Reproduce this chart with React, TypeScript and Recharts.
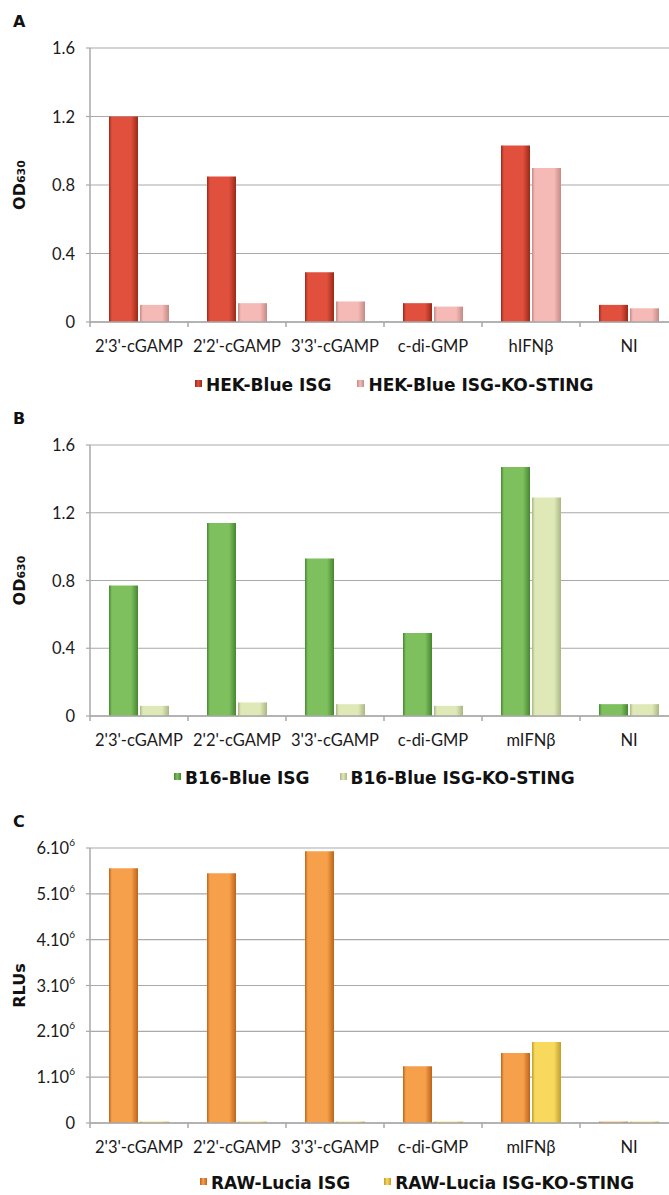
import {BarChart, Bar, XAxis, YAxis, CartesianGrid, Legend} from "recharts";

const categoriesA = ["2'3'-cGAMP", "2'2'-cGAMP", "3'3'-cGAMP", "c-di-GMP", "hIFNβ", "NI"];
const categoriesBC = ["2'3'-cGAMP", "2'2'-cGAMP", "3'3'-cGAMP", "c-di-GMP", "mIFNβ", "NI"];

const hekIsg = [1.2, 0.85, 0.29, 0.11, 1.03, 0.1];
const hekKo = [0.1, 0.11, 0.12, 0.09, 0.9, 0.08];

const b16Isg = [0.77, 1.14, 0.93, 0.49, 1.47, 0.07];
const b16Ko = [0.06, 0.08, 0.07, 0.06, 1.29, 0.07];

const rawIsg = [5.56e6, 5.45e6, 5.93e6, 1.24e6, 1.53e6, 0.03e6];
const rawKo = [0.03e6, 0.03e6, 0.03e6, 0.03e6, 1.77e6, 0.03e6];

const odTicks = [0, 0.4, 0.8, 1.2, 1.6];
const rluTicks = [0, 1e6, 2e6, 3e6, 4e6, 5e6, 6e6];

const FONT = "Lato, 'Open Sans', sans-serif";
const HEAVY = "'DejaVu Sans', sans-serif";
const GRID = "#a9a9a9";
const CHART_W = 680;
const LEFT = 90;
const RIGHT = 2;
const BAND = (CHART_W - LEFT - RIGHT) / 6;

type Colors = {isg: string; isgEdge: string; ko: string; koEdge: string};

const XTick = ({x, y, payload}: any) => (
  <g>
    <line x1={x - BAND / 2} x2={x - BAND / 2} y1={y} y2={y + 5} stroke={GRID} strokeWidth={1.5} />
    <text x={x} y={y + 24} textAnchor="middle" dominantBaseline="central" fontSize={16.5} fill="#1a1a1a" fontFamily={FONT}>
      {payload.value}
    </text>
  </g>
);

const OdTick = ({x, y, payload}: any) => (
  <text x={x} y={y} textAnchor="end" dominantBaseline="central" fontSize={16.5} fill="#1a1a1a" fontFamily={FONT}>
    {payload.value === 0 ? "0" : payload.value.toFixed(1)}
  </text>
);

const RluTick = ({x, y, payload}: any) => {
  const v = payload.value / 1e6;
  return (
    <text x={x} y={y} textAnchor="end" dominantBaseline="central" fontSize={16.5} fill="#1a1a1a" fontFamily={FONT}>
      {v === 0 ? "0" : (
        <>
          {v}.10<tspan dy={-6} fontSize={10}>6</tspan>
        </>
      )}
    </text>
  );
};

function Icon({base, edge}: {base: string; edge: string}) {
  return (
    <span
      style={{
        display: "inline-block",
        width: 7,
        height: 7,
        marginRight: 4,
        position: "relative",
        top: -4,
        background: `linear-gradient(90deg, ${edge} 0%, ${base} 45%, ${edge} 100%)`,
      }}
    />
  );
}

type PanelProps = {
  top: number;
  letter: string;
  categories: string[];
  isg: number[];
  ko: number[];
  names: [string, string];
  colors: Colors;
  rlu?: boolean;
  bottom: number;
  legendY: number;
  legendX: number;
  legendGap: number;
};

function Panel({top, letter, categories, isg, ko, names, colors, rlu, bottom, legendY, legendX, legendGap}: PanelProps) {
  const rows = categories.map((c, i) => ({name: c, isg: isg[i], ko: ko[i]}));
  const id = letter;
  return (
    <div style={{position: "absolute", left: 0, top, width: CHART_W, height: 400}}>
      <div
        style={{
          position: "absolute",
          left: 13,
          top: 12,
          fontFamily: HEAVY,
          fontWeight: 700,
          fontSize: 16,
          lineHeight: "20px",
          color: "#111",
        }}
      >
        {letter}
      </div>
      <BarChart width={CHART_W} height={400} data={rows} margin={{top: 48, right: RIGHT, left: 0, bottom}} barSize={29} barGap={2}>
        <defs>
          <linearGradient id={`isg-${id}`} x1="0" y1="0" x2="1" y2="0">
            <stop offset="0%" stopColor={colors.isgEdge} />
            <stop offset="10%" stopColor={colors.isg} />
            <stop offset="76%" stopColor={colors.isg} />
            <stop offset="100%" stopColor={colors.isgEdge} />
          </linearGradient>
          <linearGradient id={`ko-${id}`} x1="0" y1="0" x2="1" y2="0">
            <stop offset="0%" stopColor={colors.koEdge} />
            <stop offset="10%" stopColor={colors.ko} />
            <stop offset="76%" stopColor={colors.ko} />
            <stop offset="100%" stopColor={colors.koEdge} />
          </linearGradient>
        </defs>
        <CartesianGrid vertical={false} stroke={GRID} strokeWidth={1.2} />
        <XAxis
          dataKey="name"
          height={30}
          tickSize={0}
          tickMargin={0}
          tickLine={false}
          axisLine={{stroke: GRID, strokeWidth: 1.5}}
          tick={<XTick />}
          interval={0}
        />
        <YAxis
          width={LEFT}
          domain={[0, rlu ? 6e6 : 1.6]}
          ticks={rlu ? rluTicks : odTicks}
          tickSize={4}
          tickMargin={11}
          tickLine={{stroke: GRID, strokeWidth: 1.2}}
          axisLine={{stroke: GRID, strokeWidth: 1.5}}
          tick={rlu ? <RluTick /> : <OdTick />}
          interval={0}
          label={{
            content: (p: any) => {
              const vb = p.viewBox || {};
              const cy = (vb.y || 0) + (vb.height || 0) / 2;
              return (
                <text
                  transform={`translate(19 ${cy}) rotate(-90)`}
                  textAnchor="middle"
                  dominantBaseline="central"
                  fontFamily={HEAVY}
                  fontWeight={700}
                  fontSize={16}
                  fill="#111"
                >
                  {rlu ? "RLUs" : (
                    <>
                      OD<tspan fontSize={11} dy={2}>630</tspan>
                    </>
                  )}
                </text>
              );
            },
          }}
        />
        <Legend
          verticalAlign="middle"
          layout="horizontal"
          align="center"
          wrapperStyle={{top: legendY - 11, left: legendX, width: 560, height: 22}}
          content={() => (
            <div style={{display: "flex", alignItems: "center", fontFamily: HEAVY, fontWeight: 700, fontSize: 17, color: "#111", whiteSpace: "nowrap", lineHeight: "22px"}}>
              <span style={{marginRight: legendGap}}>
                <Icon base={colors.isg} edge={colors.isgEdge} />
                {names[0]}
              </span>
              <span>
                <Icon base={colors.ko} edge={colors.koEdge} />
                {names[1]}
              </span>
            </div>
          )}
        />
        <Bar dataKey="isg" name={names[0]} fill={`url(#isg-${id})`} isAnimationActive={false} />
        <Bar dataKey="ko" name={names[1]} fill={`url(#ko-${id})`} isAnimationActive={false} />
      </BarChart>
    </div>
  );
}

export default function App() {
  return (
    <div style={{position: "absolute", left: 0, top: 0, width: 669, height: 1195, overflow: "hidden", background: "#fff"}}>
      <Panel
        top={0}
        letter="A"
        categories={categoriesA}
        isg={hekIsg}
        ko={hekKo}
        names={["HEK-Blue ISG", "HEK-Blue ISG-KO-STING"]}
        colors={{isg: "#e0503c", isgEdge: "#9a2818", ko: "#f5bab6", koEdge: "#c48a86"}}
        bottom={48}
        legendY={385}
        legendX={195}
        legendGap={26}
      />
      <Panel
        top={397}
        letter="B"
        categories={categoriesBC}
        isg={b16Isg}
        ko={b16Ko}
        names={["B16-Blue ISG", "B16-Blue ISG-KO-STING"]}
        colors={{isg: "#7ec05e", isgEdge: "#468630", ko: "#dfe9b8", koEdge: "#aab684"}}
        bottom={51}
        legendY={381}
        legendX={174}
        legendGap={30}
      />
      <Panel
        top={800}
        letter="C"
        categories={categoriesBC}
        isg={rawIsg}
        ko={rawKo}
        names={["RAW-Lucia ISG", "RAW-Lucia ISG-KO-STING"]}
        colors={{isg: "#f7a04c", isgEdge: "#bd6418", ko: "#f9d85e", koEdge: "#bf9e2a"}}
        rlu
        bottom={47}
        legendY={383}
        legendX={200}
        legendGap={34}
      />
    </div>
  );
}
